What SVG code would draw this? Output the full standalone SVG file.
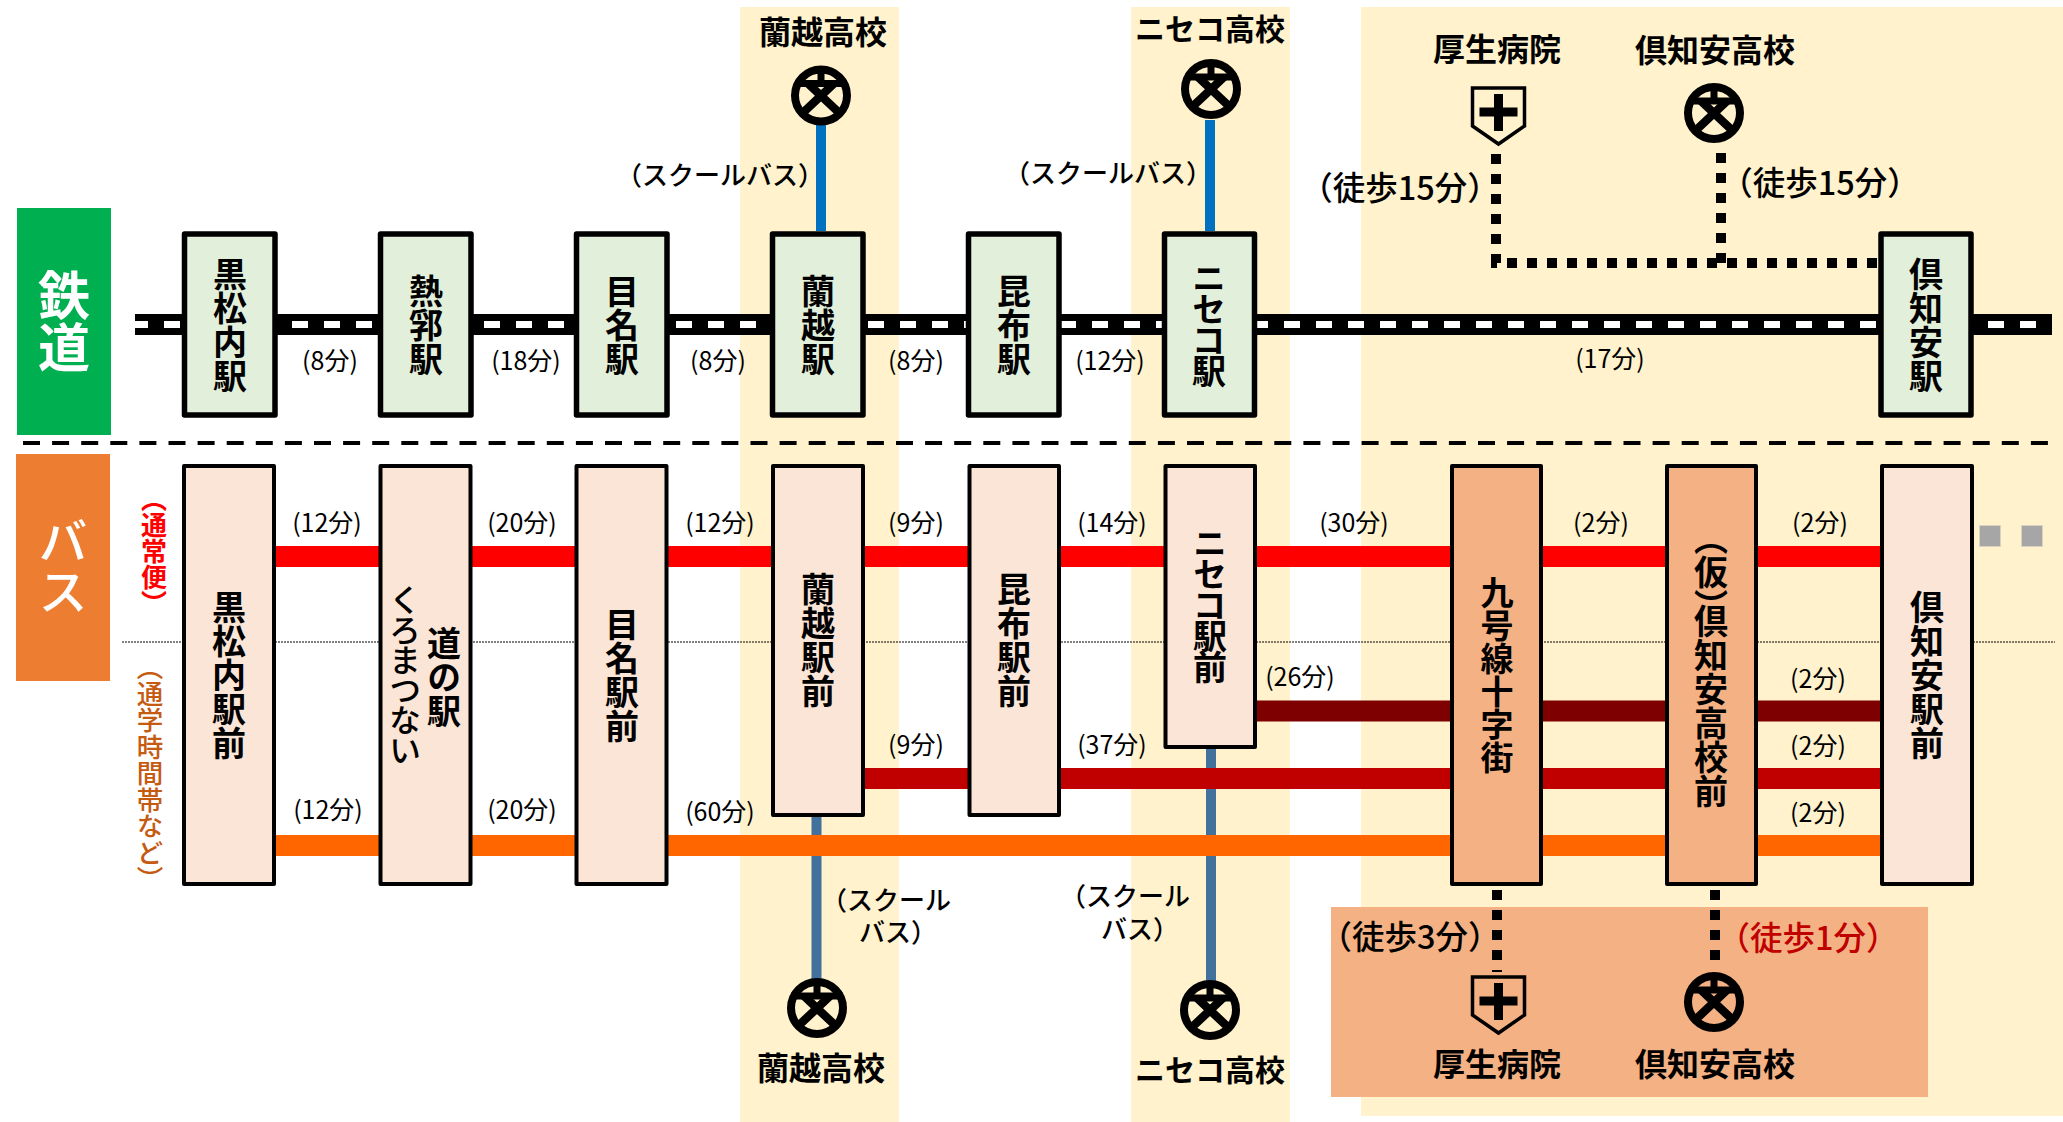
<svg xmlns="http://www.w3.org/2000/svg" xmlns:xlink="http://www.w3.org/1999/xlink" width="2063" height="1122" viewBox="0 0 2063 1122">
<style>
text{font-family:"Noto Sans CJK JP","Noto Sans",sans-serif;fill:#000}
.v{writing-mode:vertical-rl;text-anchor:middle;font-weight:700;font-size:34px}
.k{letter-spacing:-3px}
.t{font-size:25px;text-anchor:middle}
.s{font-size:32px;font-weight:700;text-anchor:middle}
.n{font-size:30px}
.w{font-size:32.500px;font-weight:500;text-anchor:middle}
.b{font-size:26px;font-weight:500;text-anchor:middle}
.rail{fill:#E2EFDA;stroke:#000;stroke-width:5.5;stroke-linejoin:round}
.bus{fill:#FBE5D6;stroke:#000;stroke-width:4;stroke-linejoin:round}
.bus2{fill:#F4B183;stroke:#000;stroke-width:4;stroke-linejoin:round}
.walk{fill:none;stroke:#000;stroke-width:10;stroke-dasharray:10 10}
.pan{fill:#FFF2CC}
.more{fill:#A6A6A6;stroke:#D6D2BE;stroke-width:1}
</style>
<defs>
<g id="school"><ellipse rx="26" ry="26" fill="none" stroke="#000" stroke-width="8"/><path d="M-26,-12H26M0,-26V-12" fill="none" stroke="#000" stroke-width="7"/><path d="M-21,20L13,-12M21,20L-13,-12" fill="none" stroke="#000" stroke-width="8.500"/></g>
<g id="hospital"><path d="M-26,-27H26V11L0,29L-26,11Z" fill="none" stroke="#000" stroke-width="3.500"/><path d="M-19,-9H19M0,-27V10" transform="translate(0,6)" fill="none" stroke="#000" stroke-width="9"/></g>
</defs>
<rect class="pan" x="740" y="7" width="159" height="1115"/>
<rect class="pan" x="1131" y="7" width="159" height="1115"/>
<rect class="pan" x="1361" y="7" width="702" height="1109"/>
<rect x="1331" y="907" width="597" height="190" fill="#F4B183"/>
<g id="band-rail"><rect x="17" y="208" width="94" height="227" fill="#00B050"/><text x="64" y="321" class="v" style="font-size:52px;fill:#fff">鉄道</text></g>
<g id="band-bus"><rect x="16" y="454" width="94" height="227" fill="#ED7D31"/><text x="63" y="566" class="v" style="font-size:50px;font-weight:500;fill:#fff">バス</text></g>
<g id="connectors" fill="none">
<path d="M23,443H2049" stroke="#000" stroke-width="4" stroke-dasharray="17 12.100"/>
<path d="M122,642H2055" stroke="#000" stroke-width="1" stroke-dasharray="2 1"/>
<path d="M135,324.500H2052" stroke="#000" stroke-width="21"/>
<path d="M135,324.500H2040" stroke="#fff" stroke-width="7" stroke-dasharray="16 16" stroke-dashoffset="3"/>
<path d="M821,125V231" stroke="#0070C0" stroke-width="10"/>
<path d="M1210,120V231" stroke="#0070C0" stroke-width="10"/>
<path d="M816.500,817V982" stroke="#41719C" stroke-width="10"/>
<path d="M1211,748V984" stroke="#41719C" stroke-width="10"/>
<path d="M276,556.500H1881" stroke="#FF0000" stroke-width="21"/>
<path d="M1257,711H1881" stroke="#7F0000" stroke-width="21"/>
<path d="M865,778.500H1881" stroke="#C00000" stroke-width="21"/>
<path d="M276,845.500H1881" stroke="#FF6600" stroke-width="21"/>
<path class="walk" d="M1496,154V263H1878"/>
<path class="walk" d="M1721,153V268"/>
<path class="walk" d="M1497,890V972"/>
<path class="walk" d="M1715,890V966"/>
</g>
<g id="rail-kuromatsunai"><rect class="rail" x="184.500" y="234" width="90.500" height="181"/><text x="230" y="325" class="v">黒松内駅</text></g>
<g id="rail-netsuppu"><rect class="rail" x="380.500" y="234" width="90.500" height="181"/><text x="426" y="325" class="v">熱郛駅</text></g>
<g id="rail-mena"><rect class="rail" x="576.500" y="234" width="90.500" height="181"/><text x="622" y="325" class="v">目名駅</text></g>
<g id="rail-rankoshi"><rect class="rail" x="772.500" y="234" width="90.500" height="181"/><text x="818" y="325" class="v">蘭越駅</text></g>
<g id="rail-konbu"><rect class="rail" x="968.500" y="234" width="90.500" height="181"/><text x="1014" y="325" class="v">昆布駅</text></g>
<g id="rail-niseko"><rect class="rail" x="1164.500" y="234" width="90" height="181"/><text x="1209" y="323" class="v k">ニセコ駅</text></g>
<g id="rail-kutchan"><rect class="rail" x="1881" y="234" width="90" height="181"/><text x="1926" y="325" class="v">倶知安駅</text></g>
<g id="bus-kuromatsunai"><rect class="bus" x="184" y="466" width="90" height="418"/><text x="229" y="675" class="v">黒松内駅前</text></g>
<g id="bus-michinoeki"><rect class="bus" x="380.500" y="466" width="90" height="418"/><text x="444" y="677" class="v">道の駅</text><text x="405" y="674" class="v" style="font-size:32px;font-weight:500;letter-spacing:-2px">くろまつない</text></g>
<g id="bus-mena"><rect class="bus" x="576.500" y="466" width="90" height="418"/><text x="622" y="675" class="v">目名駅前</text></g>
<g id="bus-rankoshi"><rect class="bus" x="773" y="466" width="90" height="349"/><text x="818" y="640" class="v">蘭越駅前</text></g>
<g id="bus-konbu"><rect class="bus" x="969.500" y="466" width="89.500" height="349"/><text x="1014" y="640" class="v">昆布駅前</text></g>
<g id="bus-niseko"><rect class="bus" x="1165.500" y="466" width="89.500" height="281"/><text x="1210" y="604" class="v k">ニセコ駅前</text></g>
<g id="bus-kyugosen"><rect class="bus2" x="1452" y="466" width="89" height="418"/><text x="1497" y="675" class="v" style="font-size:33px">九号線十字街</text></g>
<g id="bus-kutchan-hs"><rect class="bus2" x="1667" y="466" width="89" height="418"/><text x="1711" y="572" class="v">（仮）</text><text x="1711" y="706" class="v">倶知安高校前</text></g>
<g id="bus-kutchan"><rect class="bus" x="1882" y="466" width="90" height="418"/><text x="1927" y="675" class="v">倶知安駅前</text></g>
<g id="school-top-rankoshi"><use href="#school" x="821" y="95.500"/><text x="823" y="44" class="s">蘭越高校</text></g>
<g id="school-top-niseko"><use href="#school" x="1211" y="89"/><text x="1210" y="40" class="s n">ニセコ高校</text></g>
<g id="school-top-kutchan"><use href="#school" x="1714" y="113"/><text x="1715" y="62" class="s">倶知安高校</text></g>
<g id="hospital-top"><use href="#hospital" x="1498.500" y="115"/><text x="1497" y="61" class="s">厚生病院</text></g>
<g id="school-bottom-rankoshi"><use href="#school" x="817" y="1008"/><text x="821" y="1080" class="s">蘭越高校</text></g>
<g id="school-bottom-niseko"><use href="#school" x="1210" y="1010"/><text x="1210" y="1081" class="s n">ニセコ高校</text></g>
<g id="school-bottom-kutchan"><use href="#school" x="1714" y="1002"/><text x="1715" y="1076" class="s">倶知安高校</text></g>
<g id="hospital-bottom"><use href="#hospital" x="1498.500" y="1004"/><text x="1497" y="1076" class="s">厚生病院</text></g>
<g id="more"><rect class="more" x="1979.500" y="525.500" width="21" height="21"/><rect class="more" x="2021.500" y="525.500" width="21" height="21"/></g>
<g id="labels">
<text x="330" y="370" class="t">(8分)</text><text x="526" y="370" class="t">(18分)</text><text x="718" y="370" class="t">(8分)</text><text x="916" y="370" class="t">(8分)</text><text x="1110" y="370" class="t">(12分)</text><text x="1610" y="368" class="t">(17分)</text>
<text x="327" y="532" class="t">(12分)</text><text x="522" y="532" class="t">(20分)</text><text x="720" y="532" class="t">(12分)</text><text x="916" y="532" class="t">(9分)</text><text x="1112" y="532" class="t">(14分)</text><text x="1354" y="532" class="t">(30分)</text><text x="1601" y="532" class="t">(2分)</text><text x="1820" y="532" class="t">(2分)</text>
<text x="1300" y="686" class="t">(26分)</text><text x="1818" y="688" class="t">(2分)</text>
<text x="916" y="754" class="t">(9分)</text><text x="1112" y="754" class="t">(37分)</text><text x="1818" y="755" class="t">(2分)</text>
<text x="328" y="819" class="t">(12分)</text><text x="522" y="819" class="t">(20分)</text><text x="720" y="821" class="t">(60分)</text><text x="1818" y="822" class="t">(2分)</text>
<text x="1400" y="200" class="w">（徒歩15分）</text><text x="1820" y="195" class="w">（徒歩15分）</text>
<text x="1410" y="949" class="w">（徒歩3分）</text><text x="1808" y="950" class="w" style="fill:#C00000">（徒歩1分）</text>
<text x="720" y="185" class="b">（スクールバス）</text><text x="1108" y="183" class="b">（スクールバス）</text>
<text x="886" y="910" class="b">（スクール</text><text x="898" y="942" class="b">バス）</text>
<text x="1125" y="906" class="b">（スクール</text><text x="1140" y="939" class="b">バス）</text>
<text x="154" y="551" class="v" style="font-size:26px;fill:#FF0000">（通常便）</text>
<text x="150" y="773" class="v" style="font-size:26.500px;font-weight:500;fill:#C55A11">（通学時間帯など）</text>
</g>
</svg>
